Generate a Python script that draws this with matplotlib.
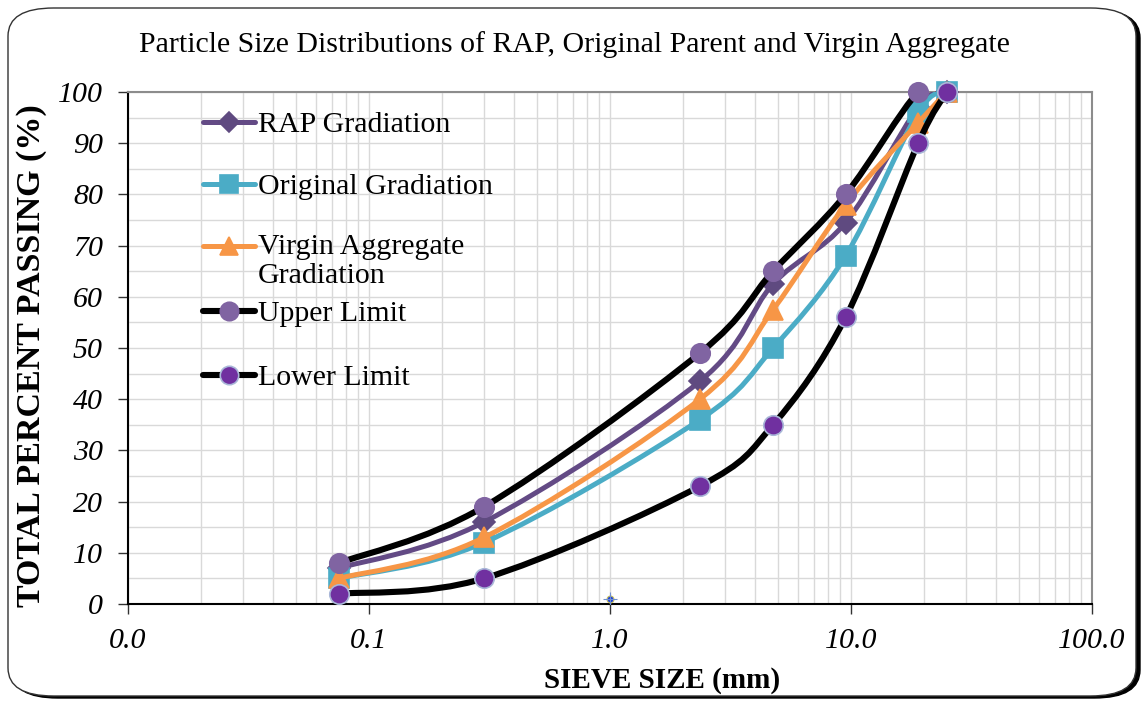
import numpy as np
import matplotlib
matplotlib.use("Agg")
import matplotlib.pyplot as plt
from matplotlib.path import Path
from matplotlib.patches import PathPatch, FancyBboxPatch
from matplotlib.lines import Line2D
import matplotlib.ticker as ticker

plt.rcParams['font.family'] = ['Liberation Serif', 'DejaVu Serif']

# sieve sizes (mm) and percent passing
sieve = [0.075, 0.3, 2.36, 4.75, 9.5, 19, 25]
rap = [7, 16, 43.5, 62.5, 74.5, 97, 100]
original = [5, 12, 36, 50, 68, 96, 100]
virgin = [5, 13, 40, 57.5, 78, 94, 100]
upper = [8, 19, 49, 65, 80, 100, 100]
lower = [2, 5, 23, 35, 56, 90, 100]

xticks = [0.01, 0.1, 1, 10, 100]
xticklabels = ['0.0', '0.1', '1.0', '10.0', '100.0']


def smooth_path(xs, ys):
    # Excel-style smoothed line: cubic bezier segments in (log x, y) space
    lx = np.log10(xs)
    pts = np.column_stack([lx, ys])
    n = len(pts)
    verts = [pts[0]]
    codes = [Path.MOVETO]
    for i in range(n - 1):
        p0 = pts[i - 1] if i > 0 else pts[i]
        p1 = pts[i]
        p2 = pts[i + 1]
        p3 = pts[i + 2] if i + 2 < n else pts[i + 1]
        c1 = p1 + (p2 - p0) / 6.0
        c2 = p2 - (p3 - p1) / 6.0
        verts += [c1, c2, p2]
        codes += [Path.CURVE4] * 3
    verts = np.array(verts)
    verts[:, 0] = 10 ** verts[:, 0]
    return Path(verts, codes)


fig = plt.figure(figsize=(11.41, 7.02), dpi=100)
fig.patch.set_facecolor('white')

# rounded frame with shadow
shadow = FancyBboxPatch((12 / 1141, 4 / 702), 1128 / 1141, 688 / 702,
                        boxstyle="round,pad=0,rounding_size=0.04",
                        transform=fig.transFigure, fc='black', ec='black', lw=1, zorder=-2)
frame = FancyBboxPatch((8 / 1141, 6 / 702), 1128 / 1141, 688 / 702,
                       boxstyle="round,pad=0,rounding_size=0.04",
                       transform=fig.transFigure, fc='white', ec='#333333', lw=1, zorder=-1)
fig.patches.extend([shadow, frame])

ax = fig.add_axes([128 / 1141, 1 - 604 / 702, 964 / 1141, 512 / 702])
ax.set_facecolor('none')
ax.set_xscale('log')
ax.set_xlim(0.01, 100)
ax.set_ylim(0, 100)

ax.xaxis.set_major_locator(ticker.FixedLocator(xticks))
ax.xaxis.set_major_formatter(ticker.FixedFormatter(xticklabels))
ax.xaxis.set_minor_locator(ticker.LogLocator(base=10, subs=np.arange(2, 10)))
ax.xaxis.set_minor_formatter(ticker.NullFormatter())
ax.yaxis.set_major_locator(ticker.MultipleLocator(10))
ax.yaxis.set_minor_locator(ticker.MultipleLocator(5))

ax.grid(True, which='both', color='#d9d9d9', lw=1)
ax.set_axisbelow(True)
ax.tick_params(which='major', direction='out', length=7, width=1, color='#333333',
               labelsize=21.5)
ax.tick_params(which='minor', length=0)
for lab in ax.get_xticklabels() + ax.get_yticklabels():
    lab.set_style('italic')
ax.tick_params(axis='x', pad=10)
ax.tick_params(axis='y', pad=11)

ax.spines['left'].set_color('black')
ax.spines['bottom'].set_color('black')
ax.spines['top'].set_color('#8c8c8c')
ax.spines['right'].set_color('#8c8c8c')
for s in ax.spines.values():
    s.set_linewidth(1.5)

series = [
    (rap, '#634a85', 'D', '#5f4a80', '#5f4a80', 11, 'RAP Gradiation'),
    (original, '#4bacc6', 's', '#4bacc6', '#4bacc6', 14, 'Original Gradiation'),
    (virgin, '#f79646', '^', '#f79646', '#f79646', 14, 'Virgin Aggregate\nGradiation'),
    (upper, 'black', 'o', '#8064a2', '#8064a2', 14, 'Upper Limit'),
    (lower, 'black', 'o', '#7030a0', '#a9b7d8', 14, 'Lower Limit'),
]

for i, (vals, lc, mk, mfc, mec, ms, lab) in enumerate(series):
    lw = 4.4 if lc == 'black' else 3.6
    patch = PathPatch(smooth_path(sieve, vals), fill=False, ec=lc, lw=lw,
                      capstyle='round', joinstyle='round', zorder=3 + i)
    ax.add_patch(patch)
    ax.plot(sieve, vals, ls='none', marker=mk, ms=ms, mfc=mfc, mec=mec, mew=1.2,
            zorder=3 + i, clip_on=False)

# stray point seen in the original near (1.0, 1)
ax.plot([1.0], [1.0], ls='none', marker='o', ms=5, mfc='#1f3fd8', mec='#c8c060', mew=0.8, zorder=9)
ax.plot([1.0], [1.0], ls='none', marker='+', ms=10, mec='#6f8fd0', mew=0.8, zorder=9)

# legend drawn in axes fraction
leg_y = [0.941, 0.820, 0.699, 0.572, 0.447]
for (vals, lc, mk, mfc, mec, ms, lab), y in zip(series, leg_y):
    lw = 4.4 if lc == 'black' else 3.6
    ax.add_line(Line2D([0.078, 0.132], [y, y], transform=ax.transAxes, color=lc, lw=lw,
                       solid_capstyle='round', zorder=10))
    ax.add_line(Line2D([0.105], [y], transform=ax.transAxes, ls='none', marker=mk,
                       ms=ms * 0.95, mfc=mfc, mec=mec, mew=1.2, zorder=11))
    if '\n' in lab:
        ax.text(0.135, y + 0.023, lab, transform=ax.transAxes, fontsize=21.5, va='top',
                ha='left', linespacing=1.12, zorder=12)
    else:
        ax.text(0.135, y - 0.005, lab, transform=ax.transAxes, fontsize=21.5, va='center',
                ha='left', zorder=12)

ax.set_xlabel('SIEVE SIZE (mm)', fontsize=21, fontweight='bold')
ax.xaxis.set_label_coords(0.554, -0.123)
ax.set_ylabel('TOTAL PERCENT PASSING (%)', fontsize=24.5, fontweight='bold')
ax.yaxis.set_label_coords(-0.084, 0.486)
fig.text(574 / 1141, 1 - 45 / 702, 'Particle Size Distributions of RAP, Original Parent and Virgin Aggregate',
         ha='center', va='center', fontsize=21.5)

fig.savefig('out.png', dpi=100)
